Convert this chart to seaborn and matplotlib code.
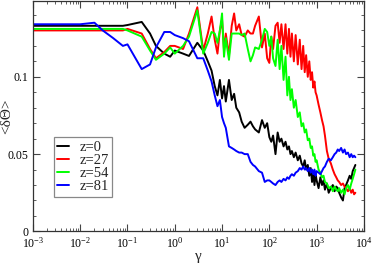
import numpy as np
import pandas as pd
import seaborn as sns
import matplotlib
matplotlib.use('Agg')
import matplotlib.pyplot as plt
from matplotlib.ticker import MultipleLocator, FuncFormatter, LogLocator

# gamma grid shared by all four curves
gamma = [0.001, 0.01, 0.02, 0.03, 0.05, 0.08, 0.1, 0.2, 0.3, 0.4,
         0.6, 0.8, 1.0, 1.5, 2, 3, 4, 5, 6, 7,
         8, 9, 10, 11, 12, 14, 16, 18, 20, 23,
         26, 30, 35, 40, 45, 50, 60, 70, 80, 90,
         100, 110, 120, 135, 150, 165, 180, 200, 220, 240,
         260, 280, 300, 330, 360, 400, 440, 480, 520, 560,
         600, 650, 700, 750, 800, 850, 900, 950, 1000, 1100,
         1200, 1300, 1400, 1500, 1650, 1800, 2000, 2200, 2400, 2600,
         2800, 3000, 3300, 3600, 3900, 4200, 4600, 5000, 5400, 5800,
         6200, 6600]

z0 = [0.133, 0.133, 0.133, 0.133, 0.133, 0.133, 0.1335, 0.1355, 0.128, 0.120,
      0.115, 0.113, 0.117, 0.115, 0.1135, 0.122, 0.117, 0.110, 0.104, 0.094,
      0.088, 0.098, 0.086, 0.094, 0.084, 0.098, 0.085, 0.089, 0.080, 0.077,
      0.071, 0.067, 0.069, 0.071, 0.068, 0.066, 0.064, 0.072, 0.067, 0.070,
      0.061, 0.058, 0.062, 0.050, 0.064, 0.058, 0.060, 0.055, 0.058, 0.053,
      0.055, 0.050, 0.052, 0.048, 0.051, 0.046, 0.049, 0.044, 0.042, 0.046,
      0.040, 0.043, 0.036, 0.041, 0.032, 0.038, 0.030, 0.037, 0.033, 0.028,
      0.035, 0.030, 0.033, 0.027, 0.031, 0.025, 0.028, 0.030, 0.026, 0.029,
      0.028, 0.025, 0.022, 0.020, 0.028, 0.030, 0.033, 0.036, 0.034, 0.039,
      0.041, 0.043]

z27 = [0.130, 0.130, 0.130, 0.130, 0.130, 0.130, 0.131, 0.128, 0.118, 0.112,
       0.116, 0.120, 0.120, 0.118, 0.128, 0.145, 0.117, 0.128, 0.139, 0.124,
       0.115, 0.130, 0.137, 0.117, 0.128, 0.114, 0.133, 0.141, 0.130, 0.134,
       0.127, 0.126, 0.130, 0.128, 0.128, 0.133, 0.139, 0.119, 0.128, 0.112,
       0.109, 0.126, 0.118, 0.133, 0.135, 0.122, 0.134, 0.118, 0.134, 0.115,
       0.131, 0.113, 0.128, 0.110, 0.127, 0.108, 0.124, 0.105, 0.120, 0.103,
       0.114, 0.100, 0.110, 0.098, 0.103, 0.093, 0.097, 0.090, 0.088, 0.082,
       0.077, 0.072, 0.068, 0.062, 0.052, 0.047, 0.044, 0.040, 0.037, 0.035,
       0.033, 0.032, 0.030, 0.031, 0.029, 0.028, 0.026, 0.028, 0.025, 0.027,
       0.024, 0.025]

z54 = [0.131, 0.131, 0.131, 0.131, 0.131, 0.131, 0.130, 0.126, 0.117, 0.111,
       0.115, 0.119, 0.115, 0.120, 0.126, 0.143, 0.115, 0.122, 0.129, 0.128,
       0.122, 0.130, 0.141, 0.113, 0.125, 0.111, 0.128, 0.128, 0.128, 0.128,
       0.127, 0.128, 0.118, 0.110, 0.114, 0.119, 0.118, 0.124, 0.131, 0.129,
       0.120, 0.126, 0.112, 0.107, 0.124, 0.105, 0.120, 0.098, 0.113, 0.088,
       0.100, 0.085, 0.092, 0.080, 0.085, 0.074, 0.077, 0.068, 0.070, 0.064,
       0.066, 0.059, 0.060, 0.054, 0.055, 0.049, 0.050, 0.045, 0.046, 0.040,
       0.038, 0.035, 0.036, 0.032, 0.031, 0.028, 0.029, 0.026, 0.029, 0.027,
       0.026, 0.028, 0.025, 0.027, 0.024, 0.028, 0.030, 0.027, 0.031, 0.034,
       0.037, 0.040]

z81 = [0.134, 0.134, 0.135, 0.130, 0.125, 0.120, 0.121, 0.105, 0.108, 0.119,
       0.129, 0.129, 0.127, 0.125, 0.123, 0.112, 0.112, 0.104, 0.097, 0.088,
       0.081, 0.085, 0.074, 0.070, 0.067, 0.055, 0.054, 0.053, 0.052, 0.051,
       0.051, 0.050, 0.050, 0.045, 0.043, 0.042, 0.039, 0.038, 0.032, 0.033,
       0.033, 0.032, 0.031, 0.030, 0.032, 0.033, 0.032, 0.034, 0.033, 0.035,
       0.034, 0.036, 0.037, 0.036, 0.038, 0.039, 0.041, 0.040, 0.042, 0.040,
       0.041, 0.039, 0.041, 0.038, 0.040, 0.037, 0.040, 0.036, 0.039, 0.038,
       0.037, 0.039, 0.041, 0.042, 0.045, 0.047, 0.046, 0.048, 0.050, 0.051,
       0.053, 0.052, 0.054, 0.051, 0.053, 0.050, 0.051, 0.048, 0.050, 0.048,
       0.049, 0.048]

labels = ['z=0', 'z=27', 'z=54', 'z=81']
colors = ['#000000', '#ff0000', '#00ff00', '#0000ff']

df = pd.concat([pd.DataFrame({'gamma': gamma, 'dtheta': v, 'z': lab})
                for v, lab in zip([z0, z27, z54, z81], labels)])

sns.set_style('ticks')
plt.rcParams['font.family'] = ['Liberation Serif', 'DejaVu Serif']
plt.rcParams['mathtext.fontset'] = 'custom'
plt.rcParams['mathtext.rm'] = 'Liberation Serif'
plt.rcParams['mathtext.it'] = 'Liberation Serif:italic'

fig = plt.figure(figsize=(3.74, 2.66), dpi=100)
ax = fig.add_axes([0.088, 0.13, 0.885, 0.866])

sns.lineplot(data=df, x='gamma', y='dtheta', hue='z', palette=colors,
             hue_order=labels, linewidth=1.4, ax=ax, legend=True)

ax.set_xscale('log')
ax.set_xlim(1e-3, 1e4)
ax.set_ylim(0, 0.149)
ax.xaxis.set_major_locator(LogLocator(base=10, numticks=10))
ax.xaxis.set_minor_locator(LogLocator(base=10, subs=np.arange(2, 10), numticks=100))
ax.yaxis.set_major_locator(MultipleLocator(0.05))
ax.yaxis.set_minor_locator(MultipleLocator(0.01))
ax.yaxis.set_major_formatter(FuncFormatter(lambda v, p: '%g' % round(v, 3)))

ax.tick_params(which='both', direction='in', top=True, right=True,
               labelsize=8.5, colors='#444444', labelcolor='black', pad=3)
ax.tick_params(which='major', length=5, width=0.8)
ax.tick_params(which='minor', length=2.5, width=0.6)
for s in ax.spines.values():
    s.set_linewidth(0.9)
    s.set_color('#333333')

ax.set_xlabel('γ', fontsize=11, labelpad=0)
ax.set_ylabel('<δΘ>', fontsize=11)
ax.yaxis.set_label_coords(-0.06, 0.5)

leg = ax.legend(loc='upper left', bbox_to_anchor=(0.063, 0.41), borderaxespad=0,
                fontsize=10.5, handlelength=0.8, handletextpad=0.7,
                labelspacing=0.0, borderpad=0.25, fancybox=False, framealpha=1)
leg.get_frame().set_edgecolor('#888888')
leg.get_frame().set_linewidth(0.9)

fig.savefig('out.png', dpi=100)
